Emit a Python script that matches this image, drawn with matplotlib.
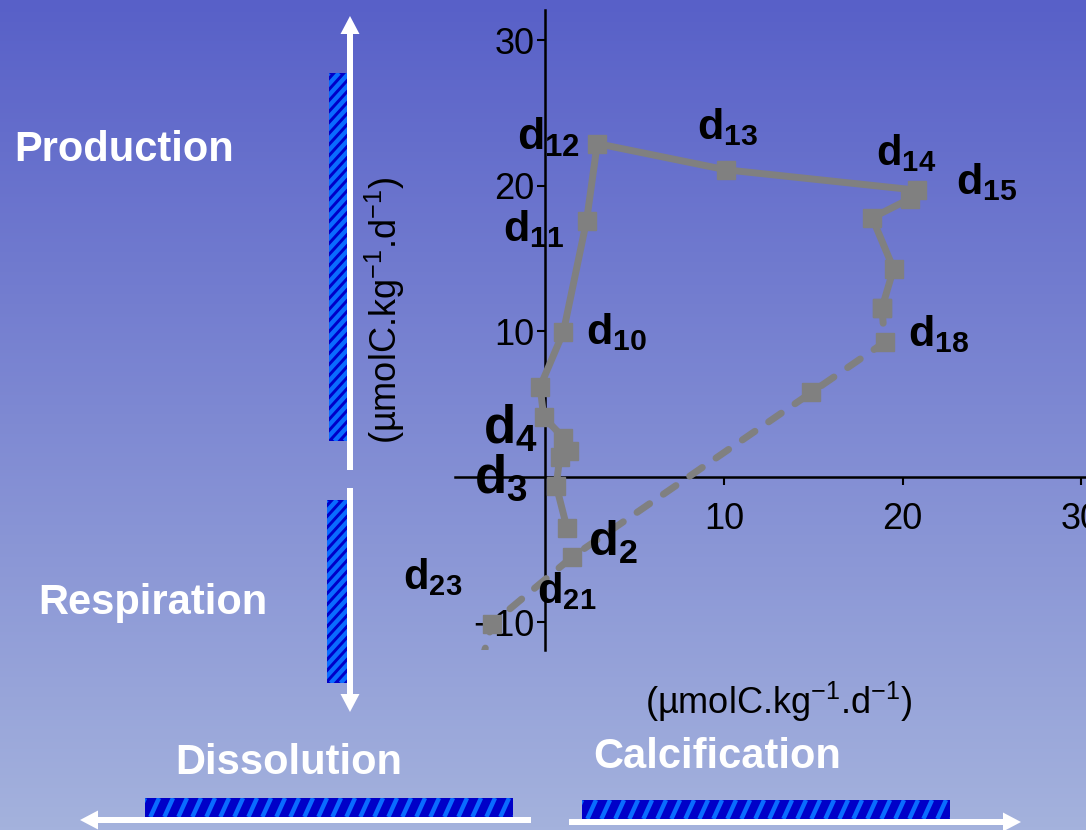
import numpy as np
import matplotlib
matplotlib.use('Agg')
import matplotlib.pyplot as plt
from matplotlib.patches import Rectangle, FancyArrow
from matplotlib.collections import LineCollection

plt.rcParams['font.family'] = ['Liberation Sans', 'DejaVu Sans']
plt.rcParams['mathtext.fontset'] = 'custom'
plt.rcParams['mathtext.rm'] = 'Liberation Sans'
plt.rcParams['mathtext.bf'] = 'Liberation Sans:bold'

# carbon fluxes: x = calcification, y = production (umolC/kg/d)
solid_x = [1.2, 0.6, 0.8, 1.3, 1.0, -0.1, -0.3, 1.0, 2.3, 2.9, 10.1, 20.8, 20.4, 18.3, 19.5, 18.85]
solid_y = [-3.5, -0.6, 1.35, 1.8, 2.7, 4.1, 6.2, 9.95, 17.6, 22.9, 21.1, 19.7, 19.1, 17.8, 14.3, 11.6]
dash_x = [18.85, 19.0, 14.9, 1.5, -3.0, -3.6]
dash_y = [11.6, 9.25, 5.8, -5.5, -10.1, -12.8]

# day labels (text, x, y, size)
day_labels = [('12', -1.6, 22.5, 32), ('13', 8.5, 23.2, 31), ('14', 18.5, 21.4, 30),
              ('15', 23.0, 19.4, 31), ('11', -2.4, 16.2, 31), ('10', 2.25, 9.1, 31),
              ('18', 20.3, 9.0, 31), ('4', -3.5, 2.3, 38), ('3', -4.0, -1.1, 38),
              ('2', 2.4, -5.4, 35), ('23', -8.0, -7.7, 30), ('21', -0.45, -8.7, 30)]

xticks = [10, 20, 30]
yticks = [-10, 10, 20, 30]
unit = r'(µmolC.kg$^{\mathregular{-1}}$.d$^{\mathregular{-1}}$)'

W, H = 1086, 830
fig = plt.figure(figsize=(W / 100, H / 100), dpi=100)

# background gradient + slide decorations, drawn in pixel coords
bg = fig.add_axes([0, 0, 1, 1])
top = np.array([88, 96, 200]) / 255
bot = np.array([164, 178, 221]) / 255
t = np.linspace(0, 1, 256)[:, None, None]
grad = top * (1 - t) + bot * t
grad = np.repeat(grad, 2, axis=1)
bg.imshow(grad, aspect='auto', extent=[0, W, H, 0], zorder=0)
bg.set_xlim(0, W)
bg.set_ylim(H, 0)
bg.axis('off')


def striped_bar(bx, by, bw, bh, step, slope):
    rect = Rectangle((bx, by), bw, bh, facecolor='#0000c8', lw=0, zorder=2)
    bg.add_patch(rect)
    segs = []
    for x0 in np.arange(bx - bh / slope - step, bx + bw + step, step):
        segs.append([(x0, by + bh), (x0 + bh / slope, by)])
    lc = LineCollection(segs, colors='#0a6cff', linewidths=3.2, zorder=2.5)
    bg.add_collection(lc)
    lc.set_clip_path(rect)


striped_bar(329, 73, 19, 368, 10, 1.1)
striped_bar(327, 500, 21, 183, 10, 1.1)
striped_bar(145, 798, 368, 19, 14, 2.2)
striped_bar(582, 800, 368, 19, 14, 2.2)

arrows = [(350, 470, 0, -454), (350, 488, 0, 224), (531, 820, -451, 0), (569, 822, 452, 0)]
for (ax0, ay0, dx, dy) in arrows:
    bg.add_patch(FancyArrow(ax0, ay0, dx, dy, width=6, head_width=19, head_length=18,
                            length_includes_head=True, color='white', lw=0, zorder=3))

for txt, x, y in [('Production', 14, 150), ('Respiration', 38, 603),
                  ('Dissolution', 175, 763), ('Calcification', 593, 757)]:
    bg.text(x, y, txt, color='white', fontsize=30, fontweight='bold', ha='left', va='center')

bg.text(779, 702, unit, fontsize=26, ha='center', va='center')
bg.text(385, 310, unit, fontsize=26, ha='center', va='center', rotation=90)

# main plot
ax = fig.add_axes([455 / W, 1 - 650 / H, (W - 455) / W, 640 / H])
ax.patch.set_alpha(0)
ax.set_xlim(-5.07, 30.28)
ax.set_ylim(-11.9, 32.08)
ax.plot(solid_x, solid_y, color='#808080', lw=5, marker='s', ms=13, zorder=3)
ax.plot(dash_x, dash_y, color='#808080', lw=5, marker='s', ms=13, dashes=(2.2, 2.4),
        dash_capstyle='round', zorder=3)

for sub, x, y, s in day_labels:
    ax.text(x, y, r'$\mathbf{d}_{\mathbf{%s}}$' % sub, fontsize=s, ha='left', va='baseline', zorder=4)

for side in ['top', 'right']:
    ax.spines[side].set_visible(False)
ax.spines['left'].set_position(('data', 0))
ax.spines['bottom'].set_position(('data', 0))
for side in ['left', 'bottom']:
    ax.spines[side].set_linewidth(1.8)
ax.set_xticks(xticks)
ax.set_yticks(yticks)
ax.tick_params(axis='both', direction='out', length=6, width=1.5, labelsize=26)
ax.tick_params(axis='x', pad=12)
ax.tick_params(axis='y', pad=2)

fig.savefig('out.png', dpi=100)
